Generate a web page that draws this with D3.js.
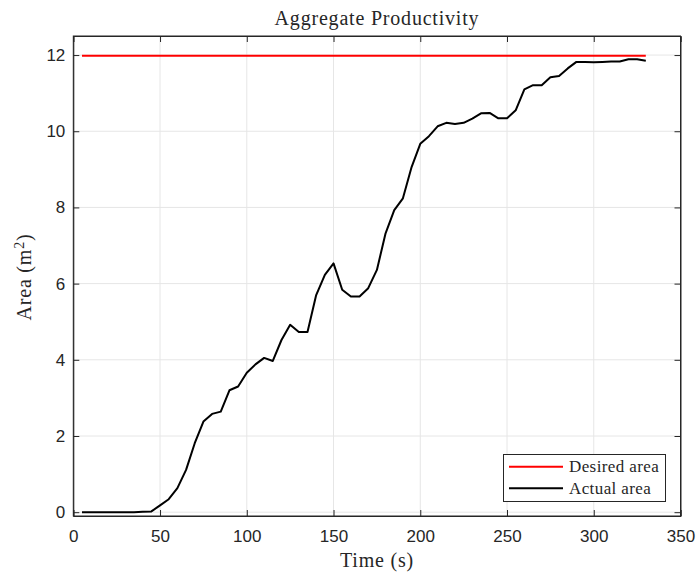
<!DOCTYPE html>
<html>
<head>
<meta charset="utf-8">
<style>
  body { margin: 0; background: #fff; }
  svg { display: block; }
  .tick text { font-family: 'Liberation Sans', Arial, sans-serif; font-size: 17px; fill: #262626; }
  .lbl { font-family: 'Liberation Serif', 'DejaVu Serif', serif; fill: #262626; }
</style>
</head>
<body>
<svg width="697" height="574"></svg>
<script src="https://d3js.org/d3.v7.min.js"></script>
<script>
// time samples (s)
let times = [5,10,15,20,25,30,35,40,45,50,55,60,65,70,75,80,85,90,95,100,105,110,115,120,125,130,135,140,145,150,155,160,165,170,175,180,185,190,195,200,205,210,215,220,225,230,235,240,245,250,255,260,265,270,275,280,285,290,295,300,305,310,315,320,325,330]
// actual area (m^2)
let actual = [0,0,0,0,0,0,0,0.01,0.02,0.18,0.34,0.63,1.11,1.81,2.38,2.58,2.64,3.2,3.3,3.66,3.88,4.05,3.97,4.52,4.92,4.73,4.73,5.7,6.23,6.53,5.84,5.66,5.66,5.88,6.36,7.32,7.93,8.24,9.06,9.67,9.87,10.13,10.22,10.19,10.22,10.33,10.47,10.48,10.34,10.34,10.55,11.1,11.21,11.21,11.42,11.45,11.65,11.82,11.82,11.81,11.82,11.83,11.83,11.89,11.89,11.85]
let desired = 11.98
let xTicks = [0,50,100,150,200,250,300,350]
let yTicks = [0,2,4,6,8,10,12]

let svg = d3.select("svg")
let mLeft = 73.3, mRight = 680.5, mTop = 36, mBottom = 516

let x = d3.scaleLinear().domain([0, 350]).range([mLeft, mRight])
let y = d3.scaleLinear().domain([-0.1, 12.5]).range([mBottom, mTop])

// grid
svg.append("g").selectAll("line").data(xTicks.slice(1, -1)).join("line")
  .attr("x1", d => x(d)).attr("x2", d => x(d)).attr("y1", mTop).attr("y2", mBottom)
  .attr("stroke", "#e6e6e6").attr("stroke-width", 1)
svg.append("g").selectAll("line").data(yTicks).join("line")
  .attr("x1", mLeft).attr("x2", mRight).attr("y1", d => y(d)).attr("y2", d => y(d))
  .attr("stroke", "#e6e6e6").attr("stroke-width", 1)

// axes
let xAxis = svg.append("g").attr("transform", `translate(0,${mBottom})`)
  .call(d3.axisBottom(x).tickValues(xTicks).tickSize(-6).tickPadding(14))
let yAxis = svg.append("g").attr("transform", `translate(${mLeft},0)`)
  .call(d3.axisLeft(y).tickValues(yTicks).tickSize(-6).tickPadding(8))
svg.append("g").attr("transform", `translate(0,${mTop})`)
  .call(d3.axisTop(x).tickValues(xTicks).tickSize(-6).tickFormat(""))
svg.append("g").attr("transform", `translate(${mRight},0)`)
  .call(d3.axisRight(y).tickValues(yTicks).tickSize(-6).tickFormat(""))
svg.selectAll(".domain").attr("stroke", "#262626")
svg.selectAll(".tick line").attr("stroke", "#262626")
xAxis.selectAll(".tick text").attr("dy", "0.71em")
svg.append("rect").attr("x", mLeft).attr("y", mTop).attr("width", mRight - mLeft).attr("height", mBottom - mTop)
  .attr("fill", "none").attr("stroke", "#262626").attr("stroke-width", 1)

// lines
svg.append("path")
  .datum(times)
  .attr("d", d3.line().x(d => x(d)).y(() => y(desired)))
  .attr("fill", "none").attr("stroke", "#ff0000").attr("stroke-width", 2)

svg.append("path")
  .datum(times.map((t, i) => [t, actual[i]]))
  .attr("d", d3.line().x(d => x(d[0])).y(d => y(d[1])))
  .attr("fill", "none").attr("stroke", "#000").attr("stroke-width", 2)
  .attr("stroke-linejoin", "round")

// labels
svg.append("text").attr("class", "lbl").attr("x", 377).attr("y", 25)
  .attr("text-anchor", "middle").attr("font-size", 20).attr("letter-spacing", 0.8)
  .text("Aggregate Productivity")
svg.append("text").attr("class", "lbl").attr("x", 377).attr("y", 567)
  .attr("text-anchor", "middle").attr("font-size", 20).attr("letter-spacing", 0.8)
  .text("Time (s)")
let yl = svg.append("text").attr("class", "lbl")
  .attr("transform", "translate(31,277) rotate(-90)")
  .attr("text-anchor", "middle").attr("font-size", 20).attr("letter-spacing", 0.8)
yl.append("tspan").text("Area (m")
yl.append("tspan").attr("font-size", 14).attr("dy", -7).text("2")
yl.append("tspan").attr("dy", 7).text(")")

// legend
let legendItems = [["Desired area", "#ff0000"], ["Actual area", "#000"]]
let lg = svg.append("g")
lg.append("rect").attr("x", 503.5).attr("y", 454.5).attr("width", 162).attr("height", 47)
  .attr("fill", "#fff").attr("stroke", "#262626").attr("stroke-width", 1)
legendItems.forEach((item, i) => {
  let yy = 466.7 + i * 21.6
  lg.append("line").attr("x1", 509).attr("x2", 563).attr("y1", yy).attr("y2", yy)
    .attr("stroke", item[1]).attr("stroke-width", 2)
  lg.append("text").attr("class", "lbl").attr("x", 569).attr("y", yy + 5.5)
    .attr("font-size", 17).attr("letter-spacing", 0.4).text(item[0])
})
</script>
</body>
</html>
